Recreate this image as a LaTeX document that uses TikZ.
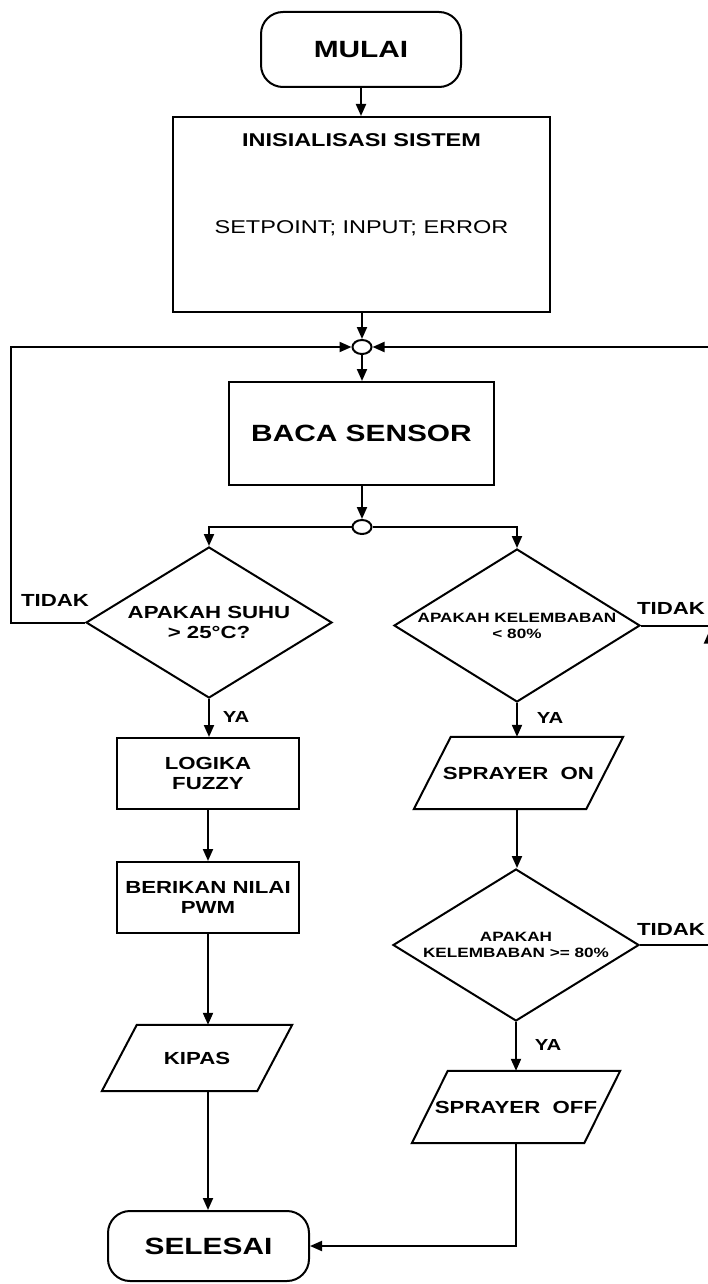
\documentclass[tikz,border=0pt]{standalone}
\usepackage{fontspec}
\setmainfont{Liberation Sans}[FakeStretch=1.27]
\usetikzlibrary{arrows.meta,shapes.geometric,calc}
\tikzset{
  base/.style={draw=black, line width=2pt, text=black, align=center, inner sep=0pt},
  term/.style={base, rectangle, rounded corners=22pt},
  procbox/.style={base, rectangle},
  dec/.style={base, diamond, aspect=1.63},
  io/.style={rectangle, text=black, align=center, inner sep=0pt},
  para/.style={draw=black, line width=2pt, line join=miter},
  junc/.style={draw=black, line width=2pt, ellipse, minimum width=19pt, minimum height=14pt, inner sep=0pt, fill=white},
  arr/.style={line width=2pt, -{Triangle[length=12pt,width=10pt]}},
  big/.style={font=\bfseries\fontsize{23.5}{27}\selectfont},
  mid/.style={font=\bfseries\fontsize{17.5}{20}\selectfont},
  small/.style={font=\bfseries\fontsize{13.5}{16}\selectfont},
  lab/.style={font=\bfseries\fontsize{17.5}{20}\selectfont, inner sep=0pt},
  yalab/.style={font=\bfseries\fontsize{16}{18}\selectfont, inner sep=0pt},
}
\begin{document}
\begin{tikzpicture}[x=1pt, y=-1pt]
\fill[white] (0,0) rectangle (708,1284);
\useasboundingbox (0,0) rectangle (708,1284);

\node[term, big, minimum width=200pt, minimum height=75pt] (start) at (361,49.5) {MULAI};
\node[procbox, minimum width=377pt, minimum height=195pt] (init) at (361.5,214.5) {};
\node[font=\bfseries\fontsize{18.5}{22}\selectfont] (initT) at (361.5,140) {INISIALISASI SISTEM};
\node[font=\fontsize{18.5}{22}\selectfont] (initV) at (361.5,228) {SETPOINT; INPUT; ERROR};
\node[junc] (j1) at (362,347) {};
\node[procbox, big, minimum width=265pt, minimum height=103pt] (baca) at (361.5,433.5) {BACA SENSOR};
\node[junc] (j2) at (362,527) {};
\node[dec, mid, minimum width=246pt, minimum height=151pt] (d1) at (209,622.5) {APAKAH SUHU\\> 25°C?};
\node[dec, small, minimum width=246pt, minimum height=153pt] (d2) at (517,625.5) {APAKAH KELEMBABAN\\< 80\%};
\node[procbox, mid, minimum width=182pt, minimum height=71pt] (fuzzy) at (208,773.5) {LOGIKA\\FUZZY};
\node[io, mid, minimum width=172pt, minimum height=72pt] (son) at (518.5,773) {SPRAYER\ \ ON};
\node[procbox, mid, minimum width=182pt, minimum height=71pt] (pwm) at (208,897.5) {BERIKAN NILAI\\PWM};
\node[dec, small, minimum width=246pt, minimum height=152pt] (d3) at (516,945) {APAKAH\\KELEMBABAN >= 80\%};
\node[io, mid, minimum width=155pt, minimum height=66pt] (kipas) at (197,1058) {KIPAS};
\node[io, mid, minimum width=172pt, minimum height=72pt] (soff) at (516,1107) {SPRAYER\ \ OFF};
\node[term, big, minimum width=201pt, minimum height=70pt] (end) at (208.5,1246) {SELESAI};

% parallelogram outlines
\draw[para] ($(son.north west)+(18.5,0)$) -- ($(son.north east)+(18.5,0)$) -- ($(son.south east)+(-18.5,0)$) -- ($(son.south west)+(-18.5,0)$) -- cycle;
\draw[para] ($(kipas.north west)+(17.5,0)$) -- ($(kipas.north east)+(17.5,0)$) -- ($(kipas.south east)+(-17.5,0)$) -- ($(kipas.south west)+(-17.5,0)$) -- cycle;
\draw[para] ($(soff.north west)+(18,0)$) -- ($(soff.north east)+(18,0)$) -- ($(soff.south east)+(-18,0)$) -- ($(soff.south west)+(-18,0)$) -- cycle;

\coordinate (lx) at (11,347);
\coordinate (rx) at (709,347);

\draw[arr] (start.south) -- (start.south |- init.north);
\draw[arr] (init.south -| j1.north) -- (j1.north);
\draw[arr] (j1.south) -- (j1.south |- baca.north);
\draw[arr] (baca.south -| j2.north) -- (j2.north);
\draw[arr] (j2.west) -| (d1.north);
\draw[arr] (j2.east) -| (d2.north);
\draw[arr] (d1.south) -- (d1.south |- fuzzy.north);
\draw[arr] (fuzzy.south) -- (pwm.north);
\draw[arr] (pwm.south) -- (pwm.south |- kipas.north);
\draw[arr] (kipas.south -| pwm.south) -- (pwm.south |- end.north);
\draw[arr] (d2.south) -- (d2.south |- son.north);
\draw[arr] (son.south -| d2.south) -- (d2.south |- d3.north);
\draw[arr] (d3.south) -- (d3.south |- soff.north);
\draw[arr] (soff.south -| d3.south) |- (end.east);

\draw[arr] (d1.west) -- (d1.west -| lx) -- (lx) -- (j1.west);
\draw[arr] (d2.east) -- (d2.east -| rx) -- (rx) -- (j1.east);
\draw[arr] (d3.east) -- (d3.east -| rx) -- ($(d2.east -| rx)+(0,6)$);

\node[lab] (t1) at (55,600) {TIDAK};
\node[lab] (t2) at (671,608) {TIDAK};
\node[lab] (t3) at (671,929) {TIDAK};
\node[yalab] (y1) at (236,717) {YA};
\node[yalab] (y2) at (550,718) {YA};
\node[yalab] (y3) at (548,1045) {YA};
\end{tikzpicture}
\end{document}
